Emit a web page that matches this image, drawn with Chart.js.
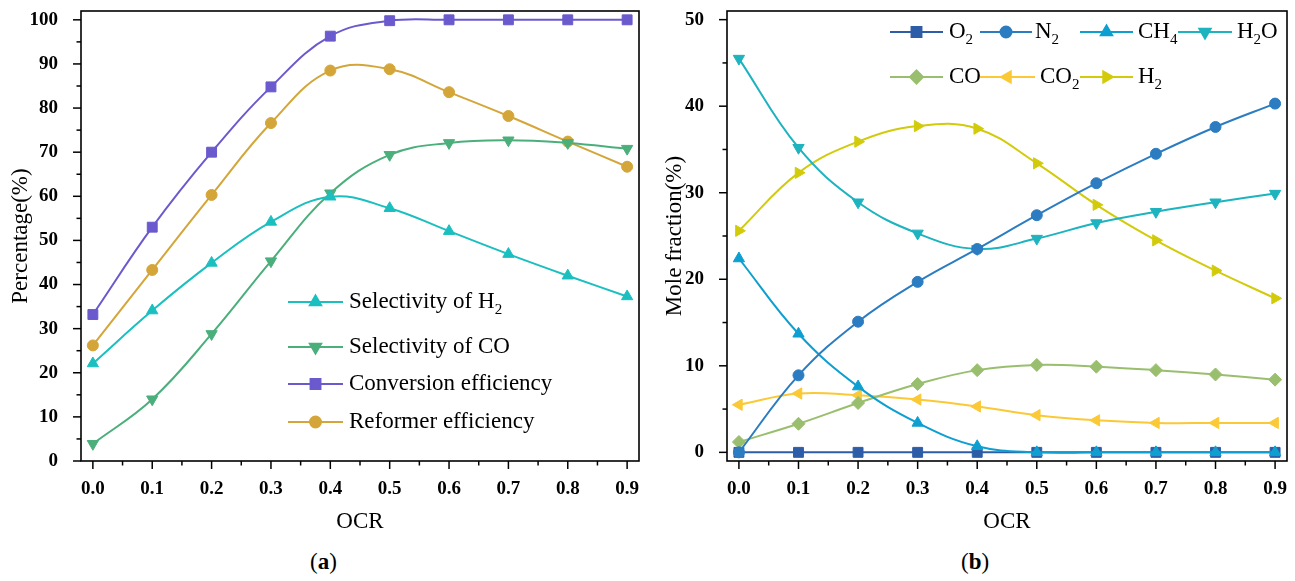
<!DOCTYPE html>
<html>
<head>
<meta charset="utf-8">
<script src="https://cdn.jsdelivr.net/npm/chart.js@4/dist/chart.umd.min.js"></script>
<style>
  html, body { margin: 0; padding: 0; background: #fff; }
  body { width: 1295px; height: 581px; position: relative; overflow: hidden; }
  canvas { position: absolute; top: 0; }
  #chartA { left: 0; }
  #chartB { left: 650px; }
  .panel { position: absolute; top: 549px; font: 23px "Liberation Serif", serif; color: #000; }
</style>
</head>
<body>
<canvas id="chartA" width="650" height="540"></canvas>
<canvas id="chartB" width="645" height="540"></canvas>
<div class="panel" style="left:310px">(<b>a</b>)</div>
<div class="panel" style="left:961px">(<b>b</b>)</div>
<script>
// OCR values shared by both panels
const ocr = [0.0, 0.1, 0.2, 0.3, 0.4, 0.5, 0.6, 0.7, 0.8, 0.9];

// panel (a): percentages
const h2Selectivity = [22.1, 34.1, 44.9, 54.2, 59.9, 57.3, 52.1, 46.9, 42.0, 37.3];
const coSelectivity = [3.9, 14.0, 28.8, 45.3, 60.7, 69.4, 72.1, 72.7, 72.1, 70.8];
const conversionEff = [33.2, 53.0, 70.0, 84.8, 96.3, 99.8, 100, 100, 100, 100];
const reformerEff   = [26.2, 43.3, 60.3, 76.6, 88.5, 88.8, 83.6, 78.2, 72.4, 66.7];

// panel (b): mole fractions
const o2  = [0, 0, 0, 0, 0, 0, 0, 0, 0, 0];
const n2  = [0.0, 8.9, 15.1, 19.7, 23.5, 27.4, 31.1, 34.5, 37.6, 40.3];
const ch4 = [22.4, 13.7, 7.6, 3.4, 0.7, 0, 0, 0, 0, 0];
const h2o = [45.5, 35.2, 28.9, 25.3, 23.5, 24.7, 26.5, 27.8, 28.9, 29.9];
const co  = [1.2, 3.3, 5.7, 7.9, 9.5, 10.1, 9.9, 9.5, 9.0, 8.4];
const co2 = [5.5, 6.8, 6.6, 6.1, 5.3, 4.3, 3.7, 3.4, 3.4, 3.4];
const h2  = [25.6, 32.3, 35.9, 37.7, 37.4, 33.4, 28.6, 24.5, 21.0, 17.8];

const SERIF = '"Liberation Serif", "Times New Roman", serif';

const pts = arr => ocr.map((x, i) => ({ x, y: arr[i] }));

function series(label, arr, color, style, radius, rotation) {
    return {
        label, data: pts(arr),
        borderColor: color, backgroundColor: color,
        borderWidth: 2, tension: 0.4,
        pointStyle: style, pointRadius: radius, pointHoverRadius: radius,
        pointRotation: rotation || 0, pointBorderWidth: 1,
        pointBorderColor: color, pointBackgroundColor: color
    };
}

// draws text where "_d" becomes a subscript digit
function drawRich(ctx, text, x, y) {
    const parts = text.split(/_(\d)/);
    ctx.textBaseline = 'middle';
    ctx.textAlign = 'left';
    ctx.fillStyle = '#000';
    parts.forEach((p, i) => {
        if (i % 2) {
            ctx.font = '15px ' + SERIF;
            ctx.fillText(p, x, y + 8);
        } else {
            ctx.font = '23px ' + SERIF;
            ctx.fillText(p, x, y);
        }
        x += ctx.measureText(p).width;
    });
}

// frame, outward major/minor ticks and the in-plot legend
const framePlugin = {
    id: 'frame',
    afterDraw(chart) {
        const ctx = chart.ctx;
        const a = chart.chartArea;
        ctx.save();
        ctx.strokeStyle = '#000';
        ctx.lineWidth = 1.6;
        ctx.strokeRect(a.left, a.top, a.right - a.left, a.bottom - a.top);

        ctx.lineWidth = 1.5;
        const xs = chart.scales.x, ys = chart.scales.y;
        const tick = (scale, v, len) => {
            const p = scale.getPixelForValue(v);
            ctx.beginPath();
            if (scale.axis === 'x') { ctx.moveTo(p, a.bottom); ctx.lineTo(p, a.bottom + len); }
            else { ctx.moveTo(a.left, p); ctx.lineTo(a.left - len, p); }
            ctx.stroke();
        };
        [xs, ys].forEach(scale => {
            const vals = scale.ticks.map(t => t.value);
            vals.forEach((v, i) => {
                tick(scale, v, 8);
                if (i < vals.length - 1) tick(scale, (v + vals[i + 1]) / 2, 4.5);
            });
        });

        const items = chart.options.plugins.frame.items || [];
        items.forEach(it => {
            const ds = chart.data.datasets[it.index];
            ctx.strokeStyle = ds.borderColor;
            ctx.lineWidth = 2;
            ctx.beginPath();
            ctx.moveTo(it.x0, it.y);
            ctx.lineTo(it.x1, it.y);
            ctx.stroke();
            ctx.fillStyle = ds.backgroundColor;
            Chart.helpers.drawPoint(ctx, {
                pointStyle: ds.pointStyle, radius: ds.pointRadius,
                rotation: ds.pointRotation, borderWidth: 1
            }, (it.x0 + it.x1) / 2, it.y);
            drawRich(ctx, ds.label, it.tx, it.y);
        });
        ctx.restore();
    }
};

function options(yMin, yMax, yWidth, yTitle, yTitlePad, padRight, legendItems) {
    const tickFont = { family: SERIF, size: 19, weight: 'bold' };
    return {
        responsive: false,
        animation: false,
        layout: { padding: { top: 11, right: padRight, left: 0, bottom: 0 } },
        plugins: {
            legend: { display: false },
            tooltip: { enabled: false },
            frame: { items: legendItems }
        },
        scales: {
            x: {
                type: 'linear', min: -0.02, max: 0.92,
                grid: { display: false }, border: { display: false },
                ticks: {
                    stepSize: 0.1, includeBounds: false, autoSkip: false, maxRotation: 0,
                    padding: 9, color: '#000', font: tickFont,
                    callback: v => v.toFixed(1)
                },
                title: { display: true, text: 'OCR', color: '#000',
                         font: { family: SERIF, size: 23 }, padding: { top: 0, bottom: 4 } },
                afterFit: s => { s.height = 79; s.paddingLeft = 0; s.paddingRight = 0; }
            },
            y: {
                min: yMin, max: yMax,
                grid: { display: false }, border: { display: false },
                ticks: {
                    stepSize: 10, includeBounds: false, autoSkip: false,
                    padding: 15, color: '#000', font: tickFont
                },
                title: { display: true, text: yTitle, color: '#000',
                         font: { family: SERIF, size: 23 }, padding: { top: yTitlePad, bottom: 0 } },
                afterFit: s => { s.width = yWidth; s.paddingTop = 0; s.paddingBottom = 0; }
            }
        }
    };
}

new Chart(document.getElementById('chartA'), {
    type: 'line',
    data: {
        datasets: [
            series('Selectivity of H_2', h2Selectivity, '#1BBFBF', 'triangle', 6.5),
            series('Selectivity of CO', coSelectivity, '#4BAF7B', 'triangle', 6.5, 180),
            series('Conversion efficiency', conversionEff, '#6A5ACD', 'rect', 7),
            series('Reformer efficiency', reformerEff, '#D4A639', 'circle', 5.5)
        ]
    },
    options: options(0, 102, 81, 'Percentage(%)', 7, 11, [
        { index: 0, x0: 288, x1: 343, y: 302, tx: 349 },
        { index: 1, x0: 288, x1: 343, y: 347, tx: 349 },
        { index: 2, x0: 288, x1: 343, y: 384, tx: 349 },
        { index: 3, x0: 288, x1: 343, y: 422, tx: 349 }
    ]),
    plugins: [framePlugin]
});

const dsO2 = series('O_2', o2, '#2E5DA8', 'rect', 7);
dsO2.order = 1;

new Chart(document.getElementById('chartB'), {
    type: 'line',
    data: {
        datasets: [
            dsO2,
            series('N_2', n2, '#2B7CC1', 'circle', 5.5),
            series('CH_4', ch4, '#0E9FD1', 'triangle', 6.5),
            series('H_2O', h2o, '#1DB3BF', 'triangle', 6.5, 180),
            series('CO', co, '#99BF6E', 'rectRot', 6.5),
            series('CO_2', co2, '#FBC935', 'triangle', 6.5, 270),
            series('H_2', h2, '#D2CB0B', 'triangle', 6.5, 90)
        ]
    },
    options: options(-1, 51, 77, 'Mole fraction(%)', 11, 7, [
        { index: 0, x0: 240, x1: 293, y: 32, tx: 299 },
        { index: 1, x0: 330, x1: 382, y: 32, tx: 385 },
        { index: 2, x0: 430, x1: 483, y: 32, tx: 488 },
        { index: 3, x0: 528, x1: 582, y: 32, tx: 587 },
        { index: 4, x0: 240, x1: 293, y: 77, tx: 299 },
        { index: 5, x0: 330, x1: 385, y: 77, tx: 390 },
        { index: 6, x0: 430, x1: 483, y: 77, tx: 488 }
    ]),
    plugins: [framePlugin]
});
</script>
</body>
</html>
